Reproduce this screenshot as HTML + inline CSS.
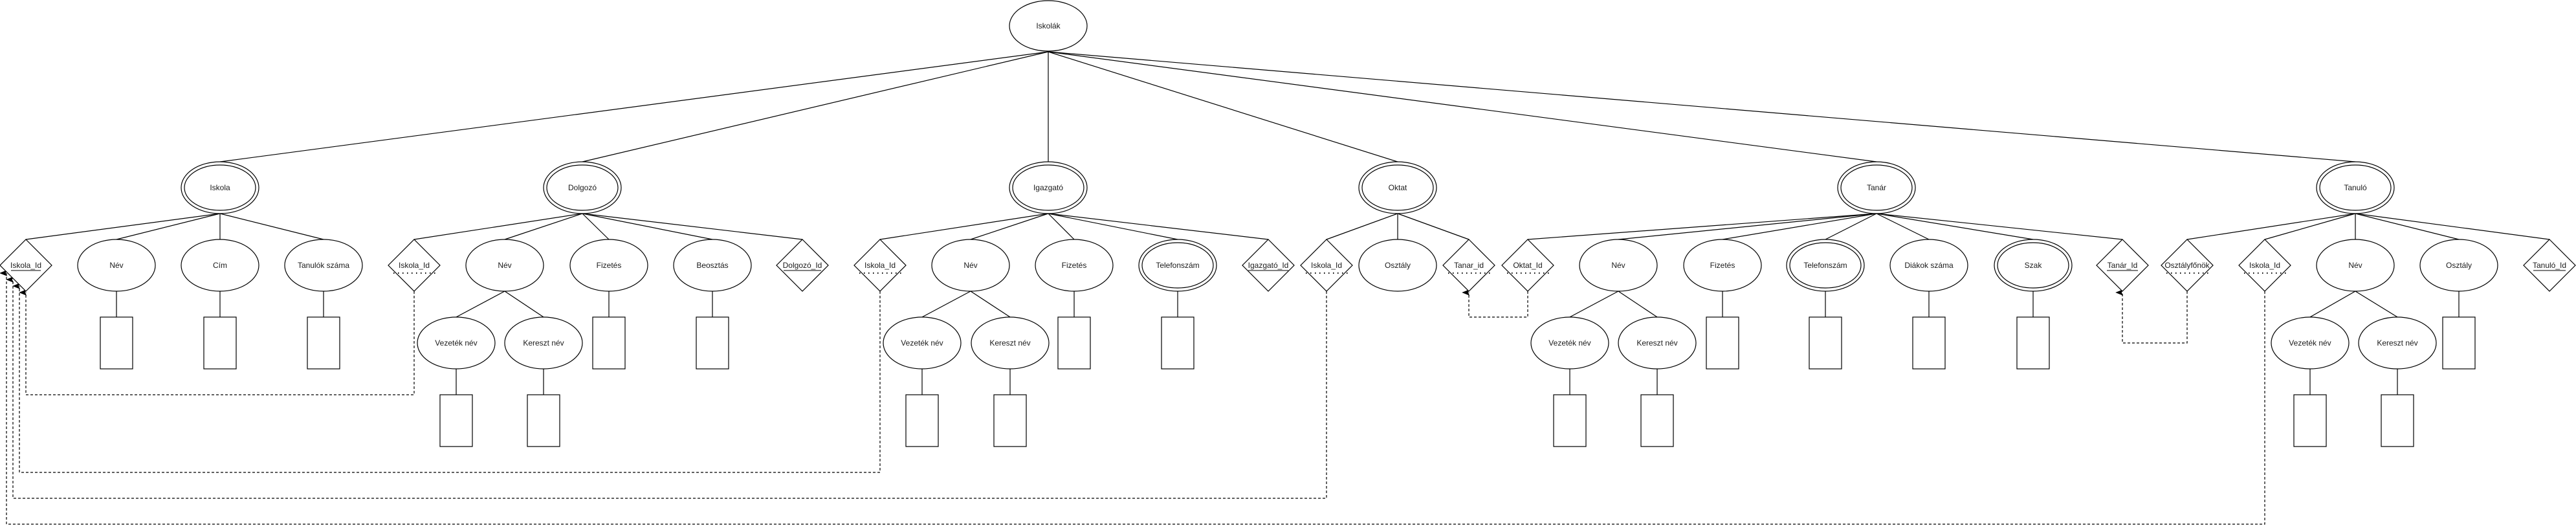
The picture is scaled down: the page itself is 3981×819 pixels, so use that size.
<!DOCTYPE html>
<html><head><meta charset="utf-8"><style>
html,body{margin:0;padding:0;background:#fff;}
svg{display:block;}
text{font-family:"Liberation Sans",Arial,sans-serif;font-size:12px;fill:#1a1a1a;text-anchor:middle;dominant-baseline:central;}
.s{fill:#fff;stroke:#000;stroke-width:1.2;}
.l{stroke:#000;stroke-width:1.2;fill:none;}
.d{stroke:#000;stroke-width:1.2;fill:none;stroke-dasharray:4 3;}
.u{stroke:#000;stroke-width:1;}
.dt{stroke:#000;stroke-width:2;stroke-dasharray:1.5 5.5;}
</style></head><body>
<svg width="3981" height="819" viewBox="0 0 3981 819" xmlns="http://www.w3.org/2000/svg">
<defs><marker id="a" markerWidth="8" markerHeight="10" refX="4" refY="9" orient="auto-start-reverse" viewBox="0 0 8 10"><path d="M0,10 L4,0 L8,10 L4,8 Z" fill="#000"/></marker></defs>

<!-- top connectors -->
<g class="l">
<line x1="1620" y1="80" x2="340" y2="250"/>
<line x1="1620" y1="80" x2="900" y2="250"/>
<line x1="1620" y1="80" x2="1620" y2="250"/>
<line x1="1620" y1="80" x2="2160" y2="250"/>
<line x1="1620" y1="80" x2="2900" y2="250"/>
<line x1="1620" y1="80" x2="3640" y2="250"/>
<!-- Iskola -->
<line x1="340" y1="330" x2="40" y2="370"/><line x1="340" y1="330" x2="180" y2="370"/><line x1="340" y1="330" x2="340" y2="370"/><line x1="340" y1="330" x2="500" y2="370"/>
<!-- Dolgozo -->
<line x1="900" y1="330" x2="640" y2="370"/><line x1="900" y1="330" x2="780" y2="370"/><line x1="900" y1="330" x2="941" y2="370"/><line x1="900" y1="330" x2="1101" y2="370"/><line x1="900" y1="330" x2="1240" y2="370"/>
<!-- Igazgato -->
<line x1="1620" y1="330" x2="1360" y2="370"/><line x1="1620" y1="330" x2="1500" y2="370"/><line x1="1620" y1="330" x2="1660" y2="370"/><line x1="1620" y1="330" x2="1820" y2="370"/><line x1="1620" y1="330" x2="1960" y2="370"/>
<!-- Oktat -->
<line x1="2160" y1="330" x2="2050" y2="370"/><line x1="2160" y1="330" x2="2160" y2="370"/><line x1="2160" y1="330" x2="2270" y2="370"/>
<!-- Tanar -->
<line x1="2900" y1="330" x2="2361" y2="370"/><line x1="2900" y1="330" x2="2501" y2="370"/><line x1="2900" y1="330" x2="2662" y2="370"/><line x1="2900" y1="330" x2="2821" y2="370"/><line x1="2900" y1="330" x2="2981" y2="370"/><line x1="2900" y1="330" x2="3142" y2="370"/><line x1="2900" y1="330" x2="3280" y2="370"/>
<!-- Tanulo -->
<line x1="3640" y1="330" x2="3380" y2="370"/><line x1="3640" y1="330" x2="3500" y2="370"/><line x1="3640" y1="330" x2="3640" y2="370"/><line x1="3640" y1="330" x2="3800" y2="370"/><line x1="3640" y1="330" x2="3940" y2="370"/>
<!-- attr to rect -->
<line x1="180" y1="450" x2="180" y2="490"/><line x1="340" y1="450" x2="340" y2="490"/><line x1="500" y1="450" x2="500" y2="490"/>
<line x1="941" y1="450" x2="941" y2="490"/><line x1="1101" y1="450" x2="1101" y2="490"/>
<line x1="1660" y1="450" x2="1660" y2="490"/><line x1="1820" y1="450" x2="1820" y2="490"/>
<line x1="2662" y1="450" x2="2662" y2="490"/><line x1="2821" y1="450" x2="2821" y2="490"/><line x1="2981" y1="450" x2="2981" y2="490"/><line x1="3142" y1="450" x2="3142" y2="490"/>
<line x1="3800" y1="450" x2="3800" y2="490"/>
<!-- name subs -->
<line x1="780" y1="450" x2="705" y2="490"/><line x1="780" y1="450" x2="840" y2="490"/><line x1="705" y1="570" x2="705" y2="610"/><line x1="840" y1="570" x2="840" y2="610"/>
<line x1="1500" y1="450" x2="1425" y2="490"/><line x1="1500" y1="450" x2="1561" y2="490"/><line x1="1425" y1="570" x2="1425" y2="610"/><line x1="1561" y1="570" x2="1561" y2="610"/>
<line x1="2501" y1="450" x2="2426" y2="490"/><line x1="2501" y1="450" x2="2561" y2="490"/><line x1="2426" y1="570" x2="2426" y2="610"/><line x1="2561" y1="570" x2="2561" y2="610"/>
<line x1="3640" y1="450" x2="3570" y2="490"/><line x1="3640" y1="450" x2="3705" y2="490"/><line x1="3570" y1="570" x2="3570" y2="610"/><line x1="3705" y1="570" x2="3705" y2="610"/>
</g>

<!-- dashed references -->
<polyline class="d" points="640,450 640,610 40,610 40,452" marker-end="url(#a)"/>
<polyline class="d" points="1360,450 1360,730 30,730 30,442" marker-end="url(#a)"/>
<polyline class="d" points="2050,450 2050,770 20,770 20,432" marker-end="url(#a)"/>
<polyline class="d" points="3500,450 3500,810 10,810 10,422" marker-end="url(#a)"/>
<polyline class="d" points="2361,450 2361,490 2270,490 2270,452" marker-end="url(#a)"/>
<polyline class="d" points="3380,450 3380,530 3280,530 3280,452" marker-end="url(#a)"/>

<!-- root -->
<ellipse class="s" cx="1620" cy="40" rx="60" ry="39"/><text x="1620" y="40">Iskolák</text>

<!-- entities (double) -->
<g>
<ellipse class="s" cx="340" cy="290" rx="60" ry="40"/><ellipse class="s" cx="340" cy="290" rx="55" ry="35"/><text x="340" y="290">Iskola</text>
<ellipse class="s" cx="900" cy="290" rx="60" ry="40"/><ellipse class="s" cx="900" cy="290" rx="55" ry="35"/><text x="900" y="290">Dolgozó</text>
<ellipse class="s" cx="1620" cy="290" rx="60" ry="40"/><ellipse class="s" cx="1620" cy="290" rx="55" ry="35"/><text x="1620" y="290">Igazgató</text>
<ellipse class="s" cx="2160" cy="290" rx="60" ry="40"/><ellipse class="s" cx="2160" cy="290" rx="55" ry="35"/><text x="2160" y="290">Oktat</text>
<ellipse class="s" cx="2900" cy="290" rx="60" ry="40"/><ellipse class="s" cx="2900" cy="290" rx="55" ry="35"/><text x="2900" y="290">Tanár</text>
<ellipse class="s" cx="3640" cy="290" rx="60" ry="40"/><ellipse class="s" cx="3640" cy="290" rx="55" ry="35"/><text x="3640" y="290">Tanuló</text>
</g>

<!-- diamonds -->
<g>
<polygon class="s" points="40,370 80,410 40,450 0,410"/><text x="40" y="410">Iskola_Id</text><line class="u" x1="17" y1="418" x2="63" y2="418"/>
<polygon class="s" points="640,370 680,410 640,450 600,410"/><text x="640" y="410">Iskola_Id</text><line class="dt" x1="608" y1="422" x2="674" y2="422"/>
<polygon class="s" points="1240,370 1280,410 1240,450 1200,410"/><text x="1240" y="410">Dolgozó_Id</text><line class="u" x1="1211" y1="418" x2="1269" y2="418"/>
<polygon class="s" points="1360,370 1400,410 1360,450 1320,410"/><text x="1360" y="410">Iskola_Id</text><line class="dt" x1="1328" y1="422" x2="1394" y2="422"/>
<polygon class="s" points="1960,370 2000,410 1960,450 1920,410"/><text x="1960" y="410">Igazgató_Id</text><line class="u" x1="1929" y1="418" x2="1991" y2="418"/>
<polygon class="s" points="2050,370 2090,410 2050,450 2010,410"/><text x="2050" y="410">Iskola_Id</text><line class="dt" x1="2018" y1="422" x2="2084" y2="422"/>
<polygon class="s" points="2270,370 2310,410 2270,450 2230,410"/><text x="2270" y="410">Tanar_id</text><line class="dt" x1="2238" y1="422" x2="2304" y2="422"/>
<polygon class="s" points="2361,370 2401,410 2361,450 2321,410"/><text x="2361" y="410">Oktat_Id</text><line class="dt" x1="2329" y1="422" x2="2395" y2="422"/>
<polygon class="s" points="3280,370 3320,410 3280,450 3240,410"/><text x="3280" y="410">Tanár_Id</text><line class="u" x1="3256" y1="418" x2="3304" y2="418"/>
<polygon class="s" points="3380,370 3420,410 3380,450 3340,410"/><text x="3380" y="410">Osztályfőnök</text><line class="dt" x1="3348" y1="422" x2="3414" y2="422"/>
<polygon class="s" points="3500,370 3540,410 3500,450 3460,410"/><text x="3500" y="410">Iskola_Id</text><line class="dt" x1="3468" y1="422" x2="3534" y2="422"/>
<polygon class="s" points="3940,370 3980,410 3940,450 3900,410"/><text x="3940" y="410">Tanuló_Id</text><line class="u" x1="3915" y1="418" x2="3965" y2="418"/>
</g>

<!-- attribute ellipses -->
<g>
<ellipse class="s" cx="180" cy="410" rx="60" ry="40"/><text x="180" y="410">Név</text>
<ellipse class="s" cx="340" cy="410" rx="60" ry="40"/><text x="340" y="410">Cím</text>
<ellipse class="s" cx="500" cy="410" rx="60" ry="40"/><text x="500" y="410">Tanulók száma</text>
<ellipse class="s" cx="780" cy="410" rx="60" ry="40"/><text x="780" y="410">Név</text>
<ellipse class="s" cx="941" cy="410" rx="60" ry="40"/><text x="941" y="410">Fizetés</text>
<ellipse class="s" cx="1101" cy="410" rx="60" ry="40"/><text x="1101" y="410">Beosztás</text>
<ellipse class="s" cx="1500" cy="410" rx="60" ry="40"/><text x="1500" y="410">Név</text>
<ellipse class="s" cx="1660" cy="410" rx="60" ry="40"/><text x="1660" y="410">Fizetés</text>
<ellipse class="s" cx="1820" cy="410" rx="60" ry="40"/><ellipse class="s" cx="1820" cy="410" rx="55" ry="35"/><text x="1820" y="410">Telefonszám</text>
<ellipse class="s" cx="2160" cy="410" rx="60" ry="40"/><text x="2160" y="410">Osztály</text>
<ellipse class="s" cx="2501" cy="410" rx="60" ry="40"/><text x="2501" y="410">Név</text>
<ellipse class="s" cx="2662" cy="410" rx="60" ry="40"/><text x="2662" y="410">Fizetés</text>
<ellipse class="s" cx="2821" cy="410" rx="60" ry="40"/><ellipse class="s" cx="2821" cy="410" rx="55" ry="35"/><text x="2821" y="410">Telefonszám</text>
<ellipse class="s" cx="2981" cy="410" rx="60" ry="40"/><text x="2981" y="410">Diákok száma</text>
<ellipse class="s" cx="3142" cy="410" rx="60" ry="40"/><ellipse class="s" cx="3142" cy="410" rx="55" ry="35"/><text x="3142" y="410">Szak</text>
<ellipse class="s" cx="3640" cy="410" rx="60" ry="40"/><text x="3640" y="410">Név</text>
<ellipse class="s" cx="3800" cy="410" rx="60" ry="40"/><text x="3800" y="410">Osztály</text>
</g>

<!-- sub ellipses -->
<g>
<ellipse class="s" cx="705" cy="530" rx="60" ry="40"/><text x="705" y="530">Vezeték név</text>
<ellipse class="s" cx="840" cy="530" rx="60" ry="40"/><text x="840" y="530">Kereszt név</text>
<ellipse class="s" cx="1425" cy="530" rx="60" ry="40"/><text x="1425" y="530">Vezeték név</text>
<ellipse class="s" cx="1561" cy="530" rx="60" ry="40"/><text x="1561" y="530">Kereszt név</text>
<ellipse class="s" cx="2426" cy="530" rx="60" ry="40"/><text x="2426" y="530">Vezeték név</text>
<ellipse class="s" cx="2561" cy="530" rx="60" ry="40"/><text x="2561" y="530">Kereszt név</text>
<ellipse class="s" cx="3570" cy="530" rx="60" ry="40"/><text x="3570" y="530">Vezeték név</text>
<ellipse class="s" cx="3705" cy="530" rx="60" ry="40"/><text x="3705" y="530">Kereszt név</text>
</g>

<!-- rects -->
<g class="s">
<rect x="155" y="490" width="50" height="80"/><rect x="315" y="490" width="50" height="80"/><rect x="475" y="490" width="50" height="80"/>
<rect x="916" y="490" width="50" height="80"/><rect x="1076" y="490" width="50" height="80"/>
<rect x="1635" y="490" width="50" height="80"/><rect x="1795" y="490" width="50" height="80"/>
<rect x="2637" y="490" width="50" height="80"/><rect x="2796" y="490" width="50" height="80"/><rect x="2956" y="490" width="50" height="80"/><rect x="3117" y="490" width="50" height="80"/>
<rect x="3775" y="490" width="50" height="80"/>
<rect x="680" y="610" width="50" height="80"/><rect x="815" y="610" width="50" height="80"/>
<rect x="1400" y="610" width="50" height="80"/><rect x="1536" y="610" width="50" height="80"/>
<rect x="2401" y="610" width="50" height="80"/><rect x="2536" y="610" width="50" height="80"/>
<rect x="3545" y="610" width="50" height="80"/><rect x="3680" y="610" width="50" height="80"/>
</g>
</svg>
</body></html>
